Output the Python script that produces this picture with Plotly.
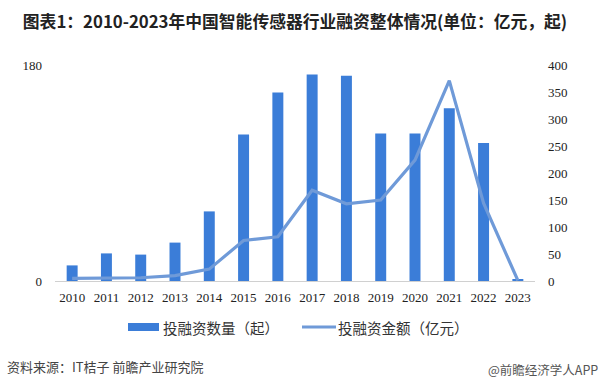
import plotly.graph_objects as go

years = ["2010", "2011", "2012", "2013", "2014", "2015", "2016",
         "2017", "2018", "2019", "2020", "2021", "2022", "2023"]
deal_counts = [13, 23, 22, 32, 58, 122, 157, 172, 171, 123, 123, 144, 115, 1]
deal_amounts = [5, 6, 6, 10, 22, 75, 82, 168, 143, 150, 224, 371, 144, 1]

left_ticks = [0, 180]
right_ticks = [0, 50, 100, 150, 200, 250, 300, 350, 400]

title_text = "图表1：2010-2023年中国智能传感器行业融资整体情况(单位：亿元，起)"
bar_name = "投融资数量（起）"
line_name = "投融资金额（亿元）"
source_text = "资料来源：IT桔子 前瞻产业研究院"
credit_text = "@前瞻经济学人APP"

FONT = "Noto Sans CJK SC"
SERIF = "Liberation Serif"
BAR_COLOR = "#3b7dd8"
LINE_COLOR = "#6f9ad8"

# plot area geometry (pixels)
W, H = 602, 389
L, R, T, B = 55, 67, 65, 108
PW, PH = W - L - R, H - T - B


def px(x):
    return (x - L) / PW


def py(y):
    return (H - B - y) / PH


fig = go.Figure()
fig.add_trace(go.Bar(
    x=years, y=deal_counts, name=bar_name,
    marker=dict(color=BAR_COLOR, line=dict(width=0)),
    yaxis="y",
))
fig.add_trace(go.Scatter(
    x=years, y=deal_amounts, name=line_name, mode="lines",
    line=dict(color=LINE_COLOR, width=3.2),
    yaxis="y2",
))

fig.update_layout(
    width=W, height=H,
    margin=dict(l=L, r=R, t=T, b=B, autoexpand=False),
    paper_bgcolor="white", plot_bgcolor="white",
    bargap=0.68,
    showlegend=False,
    font=dict(family=FONT, size=12, color="#333333"),
    title=dict(text="<b>" + title_text + "</b>", x=0.5, xanchor="center",
               xref="paper", y=1 - 22 / H, yanchor="middle",
               font=dict(family=FONT, size=16.8, color="#222222")),
    xaxis=dict(type="category", showgrid=False, showline=True,
               linecolor="#d0d0d0", linewidth=1, ticks="",
               ticklabelstandoff=4,
               tickfont=dict(family=SERIF, size=13, color="#222222")),
    yaxis=dict(range=[0, 180], tickvals=left_ticks, showgrid=True,
               gridcolor="#d9d9d9", gridwidth=1, zeroline=False,
               showline=False, ticks="", ticklabelstandoff=12,
               tickfont=dict(family=SERIF, size=13, color="#222222")),
    yaxis2=dict(range=[0, 400], tickvals=right_ticks, overlaying="y",
                side="right", showgrid=False, zeroline=False,
                showline=False, ticks="", ticklabelstandoff=12,
                tickfont=dict(family=SERIF, size=13, color="#222222")),
)

# custom legend
leg_y = 327
fig.add_shape(type="rect", xref="paper", yref="paper",
              x0=px(128), x1=px(159), y0=py(leg_y + 4), y1=py(leg_y - 4),
              fillcolor=BAR_COLOR, line=dict(width=0))
fig.add_annotation(text=bar_name, xref="paper", yref="paper",
                   x=px(161), y=py(leg_y), xanchor="left", yanchor="middle",
                   showarrow=False,
                   font=dict(family=FONT, size=14.5, color="#333333"))
fig.add_shape(type="line", xref="paper", yref="paper",
              x0=px(302), x1=px(336), y0=py(leg_y), y1=py(leg_y),
              line=dict(color=LINE_COLOR, width=3.2))
fig.add_annotation(text=line_name, xref="paper", yref="paper",
                   x=px(336), y=py(leg_y), xanchor="left", yanchor="middle",
                   showarrow=False,
                   font=dict(family=FONT, size=14.5, color="#333333"))

fig.add_annotation(text=source_text, xref="paper", yref="paper",
                   x=px(5), y=py(366), xanchor="left", yanchor="middle",
                   showarrow=False,
                   font=dict(family=FONT, size=13, color="#444444"))
fig.add_annotation(text=credit_text, xref="paper", yref="paper",
                   x=px(600), y=py(369), xanchor="right", yanchor="middle",
                   showarrow=False,
                   font=dict(family=FONT, size=12.5, color="#555555"))

fig.write_html("out.html",
               config={"displayModeBar": False},
               post_script="document.body.style.margin='0';"
                           "document.body.style.overflow='hidden';")
